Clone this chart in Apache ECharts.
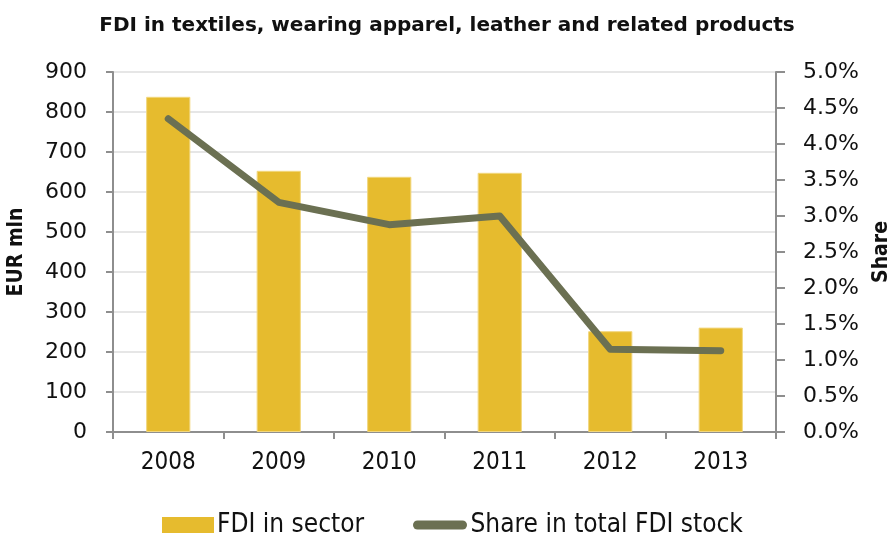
<!DOCTYPE html>
<html>
<head>
<meta charset="utf-8">
<script src="https://cdn.jsdelivr.net/npm/echarts@6/dist/echarts.min.js"></script>
<style>
  html, body { margin: 0; padding: 0; background: #fff; }
  #chart { width: 894px; height: 535px; }
</style>
</head>
<body>
<div id="chart"></div>
<script>
// Years on the category axis
const years = ['2008', '2009', '2010', '2011', '2012', '2013'];
// FDI stock in the sector, EUR mln
const fdiSector = [838, 653, 638, 648, 252, 261];
// Share of the sector in total FDI stock, %
const shareTotal = [4.35, 3.19, 2.88, 3.0, 1.15, 1.13];
// Axis tick settings
const leftMax = 900, leftStep = 100;
const rightMax = 5, rightStep = 0.5;

const SANS = '"DejaVu Sans", sans-serif';
const COND = '"DejaVu Sans Condensed", "DejaVu Sans", sans-serif';
const AXIS_GREY = '#8e8e8e';
const TEXT = '#111';

const chart = echarts.init(document.getElementById('chart'));

chart.setOption({
  animation: false,
  title: {
    text: 'FDI in textiles, wearing apparel, leather and related products',
    left: 'center',
    top: 11,
    textStyle: { fontFamily: SANS, fontSize: 20, fontWeight: 'bold', color: TEXT }
  },
  grid: {
    left: 113, right: 118, top: 72, bottom: 103,
    containLabel: false,
    outerBoundsMode: 'none'
  },
  legend: [
    {
      left: 157,
      top: 507,
      itemWidth: 52,
      itemHeight: 16,
      icon: 'rect',
      itemStyle: { borderWidth: 0 },
      textStyle: { fontFamily: COND, fontSize: 26, color: TEXT, padding: [0, 0, 0, -2] },
      data: ['FDI in sector']
    },
    {
      left: 408,
      top: 507,
      itemWidth: 59,
      itemHeight: 9,
      icon: 'path://M5,0 L55,0 A5,5 0 0 1 55,10 L5,10 A5,5 0 0 1 5,0 Z',
      textStyle: { fontFamily: COND, fontSize: 26, color: TEXT, padding: [0, 0, 0, -4] },
      data: ['Share in total FDI stock']
    }
  ],
  xAxis: {
    type: 'category',
    data: years,
    axisLine: { lineStyle: { color: AXIS_GREY, width: 2 } },
    axisTick: { show: true, length: 7, lineStyle: { color: AXIS_GREY, width: 2 } },
    axisLabel: { fontFamily: COND, fontSize: 24, color: TEXT, margin: 19 }
  },
  yAxis: [
    {
      type: 'value',
      min: 0, max: leftMax, interval: leftStep,
      name: 'EUR mln',
      nameLocation: 'middle',
      nameGap: 86,
      nameRotate: 90,
      nameTextStyle: { fontFamily: COND, fontSize: 21, fontWeight: 'bold', color: TEXT },
      axisLine: { show: true, lineStyle: { color: AXIS_GREY, width: 2 } },
      axisTick: { show: true, length: 7, lineStyle: { color: AXIS_GREY, width: 2 } },
      axisLabel: { fontFamily: SANS, fontSize: 22, color: TEXT, margin: 26 },
      splitLine: { lineStyle: { color: '#e6e6e6', width: 2 } }
    },
    {
      type: 'value',
      min: 0, max: rightMax, interval: rightStep,
      name: 'Share',
      nameLocation: 'middle',
      nameGap: 95,
      nameRotate: 90,
      nameTextStyle: { fontFamily: COND, fontSize: 21, fontWeight: 'bold', color: TEXT },
      position: 'right',
      axisLine: { show: true, lineStyle: { color: AXIS_GREY, width: 2 } },
      axisTick: { show: true, length: 9, lineStyle: { color: AXIS_GREY, width: 2 } },
      axisLabel: {
        fontFamily: SANS, fontSize: 22, color: TEXT, margin: 27,
        formatter: v => v.toFixed(1) + '%'
      },
      splitLine: { show: false }
    }
  ],
  series: [
    {
      name: 'FDI in sector',
      type: 'bar',
      data: fdiSector,
      barWidth: '40%',
      itemStyle: { color: '#e6bb2e', borderColor: '#f2d77e', borderWidth: 1 }
    },
    {
      name: 'Share in total FDI stock',
      type: 'line',
      yAxisIndex: 1,
      data: shareTotal,
      symbol: 'none',
      lineStyle: { color: '#6b7052', width: 7, cap: 'round', join: 'round' },
      itemStyle: { color: '#6b7052' }
    }
  ]
});
</script>
</body>
</html>
